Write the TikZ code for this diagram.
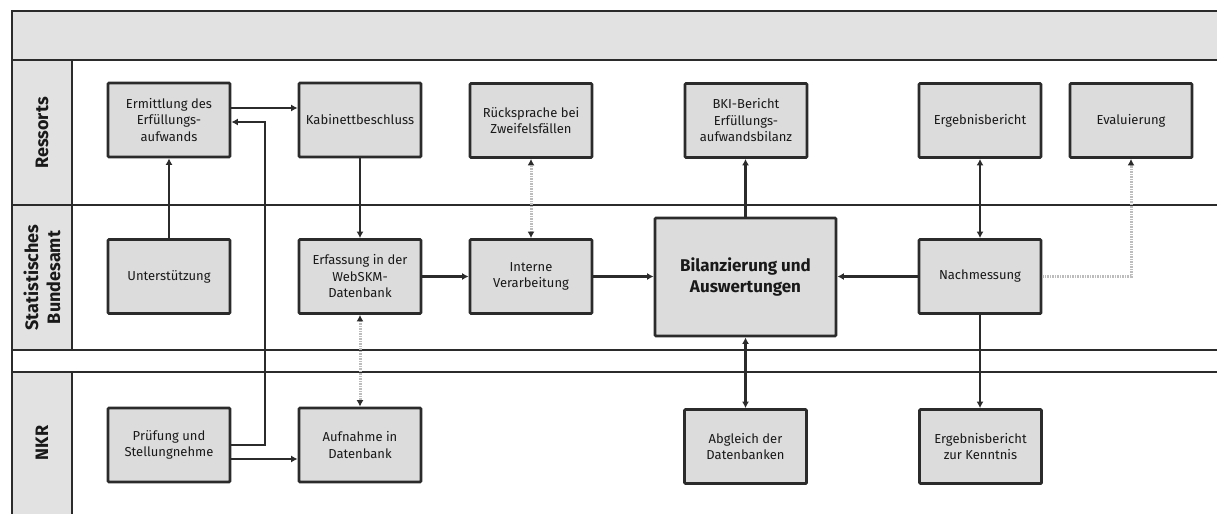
\documentclass[tikz,border=0pt]{standalone}
\usepackage{fontspec}
\setmainfont{Fira Sans}
\usetikzlibrary{arrows.meta,calc}
\definecolor{boxfill}{HTML}{DCDCDC}
\definecolor{bandfill}{HTML}{E2E2E2}
\definecolor{edge}{HTML}{2B2B2B}
\definecolor{dotgray}{HTML}{BDBDBD}
\tikzset{
  procbox/.style={draw=edge, fill=boxfill, line width=2.8pt, rounded corners=1pt,
    minimum width=122pt, minimum height=74pt, align=center, inner sep=2pt,
    font=\fontsize{13}{16.5}\selectfont, text=black!90},
  bigbox/.style={procbox, minimum width=181pt, minimum height=118pt,
    font=\fontsize{17}{21}\selectfont\bfseries},
  lanelabel/.style={rotate=90, align=center, font=\fontsize{18}{22}\selectfont\bfseries, text=black!90},
  laneline/.style={draw=edge, line width=2.2pt},
  conn/.style={draw=edge, line width=2.8pt, -{Latex[length=6.5pt,width=7pt]}},
  conn2/.style={draw=edge, line width=2.8pt, {Latex[length=6.5pt,width=7pt]}-{Latex[length=6.5pt,width=7pt]}},
  dconn2/.style={draw=dotgray, line width=3pt, dash pattern=on 1.5pt off 1pt,
    {Latex[length=6.5pt,width=7pt,color=edge]}-{Latex[length=6.5pt,width=7pt,color=edge]}},
  dconn/.style={draw=dotgray, line width=3pt, dash pattern=on 1.5pt off 1pt,
    -{Latex[length=6.5pt,width=7pt,color=edge]}},
}
\begin{document}
\begin{tikzpicture}[x=1pt,y=-1pt]
\useasboundingbox (0,0) rectangle (1217,514);
% header band and label column
\fill[bandfill] (12,11) rectangle (1217,60);
\fill[bandfill] (12,60) rectangle (72,205);
\fill[bandfill] (12,205) rectangle (72,350);
\fill[bandfill] (12,372) rectangle (72,514);
\draw[laneline] (1217,11) -- (12,11) -- (12,514);
\draw[laneline] (12,60) -- (1217,60);
\draw[laneline] (12,205) -- (1217,205);
\draw[laneline] (12,350) -- (1217,350);
\draw[laneline] (12,372) -- (1217,372);
\draw[laneline] (72,60) -- (72,350);
\draw[laneline] (72,372) -- (72,514);
% lane labels
\node[lanelabel] (lres) at (42,133) {Ressorts};
\node[lanelabel] (lsta) at (42,277.5) {Statistisches\\Bundesamt};
\node[lanelabel] (lnkr) at (42,443) {NKR};
% row 1
\node[procbox] (erm) at (169,120) {Ermittlung des\\Erfüllungs-\\aufwands};
\node[procbox] (kab) at (360,120) {Kabinettbeschluss};
\node[procbox] (rue) at (531,120.5) {Rücksprache bei\\Zweifelsfällen};
\node[procbox] (bki) at (746,120.5) {BKI-Bericht\\Erfüllungs-\\aufwandsbilanz};
\node[procbox] (erg) at (980,120.5) {Ergebnisbericht};
\node[procbox] (eva) at (1131,120.5) {Evaluierung};
% row 2
\node[procbox] (unt) at (169,276.5) {Unterstützung};
\node[procbox] (erf) at (360,276.5) {Erfassung in der\\WebSKM-\\Datenbank};
\node[procbox] (int) at (531,276.5) {Interne\\Verarbeitung};
\node[bigbox] (bil) at (745.5,277) {Bilanzierung und\\Auswertungen};
\node[procbox] (nach) at (980,276.5) {Nachmessung};
% row 3
\node[procbox] (pru) at (169,445) {Prüfung und\\Stellungnehme};
\node[procbox] (auf) at (360,445) {Aufnahme in\\Datenbank};
\node[procbox] (abg) at (745.5,446.5) {Abgleich der\\Datenbanken};
\node[procbox] (ergk) at (980.5,446.5) {Ergebnisbericht\\zur Kenntnis};
% connectors
\coordinate (bend) at (265,122);
\draw[conn] (erm.east |- 0,108) -- (kab.west |- 0,108);
\draw[conn] (pru.east |- 0,445) -| (bend) -- (erm.east |- bend);
\draw[conn] (pru.east |- 0,459) -- (auf.west |- 0,459);
\draw[conn] (unt.north) -- (erm.south);
\draw[conn] (kab.south) -- (erf.north);
\draw[dconn2] (erf.south) -- (auf.north);
\draw[conn] (erf.east) -- (int.west);
\draw[dconn2] (int.north) -- (rue.south);
\draw[conn] (int.east) -- (bil.west |- int.east);
\draw[conn] (bil.north) -- (bil.north |- bki.south);
\draw[conn] (nach.west) -- (bil.east |- nach.west);
\draw[conn2] (erg.south) -- (nach.north);
\draw[dconn] (nach.east) -| (eva.south);
\draw[conn2] (bil.south) -- (bil.south |- abg.north);
\draw[conn] (nach.south) -- (nach.south |- ergk.north);
\end{tikzpicture}
\end{document}
